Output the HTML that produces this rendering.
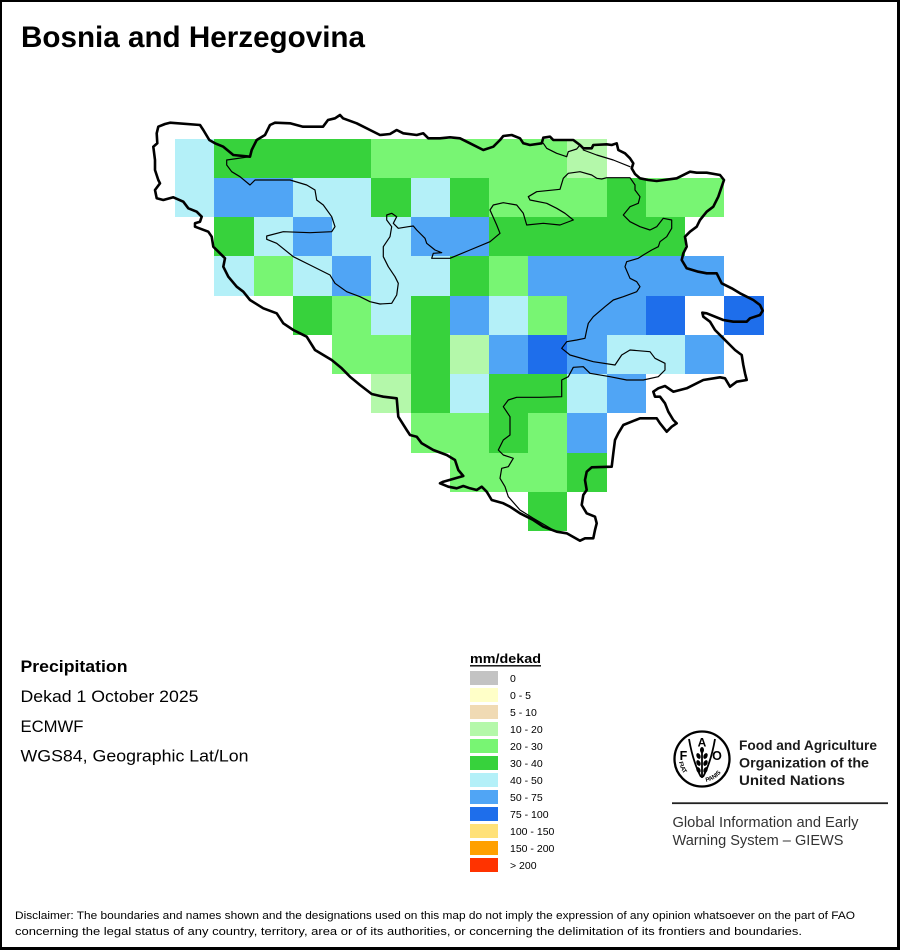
<!DOCTYPE html>
<html>
<head>
<meta charset="utf-8">
<style>
  html, body { margin: 0; padding: 0; background: #fff; }
  svg { display: block; }
  text { font-family: "Liberation Sans", Arial, sans-serif; }
</style>
</head>
<body>
<svg width="900" height="950" viewBox="0 0 900 950" xmlns="http://www.w3.org/2000/svg">
  <rect x="0" y="0" width="900" height="950" fill="#ffffff"/>

  <!-- Grid cells -->
  <g shape-rendering="crispEdges">
    <!-- R0 y139 h39 -->
    <rect x="175" y="139" width="39" height="39" fill="#b4f0f8"/>
    <rect x="214" y="139" width="157" height="39" fill="#37d23c"/>
    <rect x="371" y="139" width="196" height="39" fill="#78f573"/>
    <rect x="567" y="139" width="40" height="39" fill="#b4f8aa"/>
    <!-- R1 y178 h39 -->
    <rect x="175" y="178" width="39" height="39" fill="#b4f0f8"/>
    <rect x="214" y="178" width="79" height="39" fill="#50a5f5"/>
    <rect x="293" y="178" width="78" height="39" fill="#b4f0f8"/>
    <rect x="371" y="178" width="40" height="39" fill="#37d23c"/>
    <rect x="411" y="178" width="39" height="39" fill="#b4f0f8"/>
    <rect x="450" y="178" width="39" height="39" fill="#37d23c"/>
    <rect x="489" y="178" width="118" height="39" fill="#78f573"/>
    <rect x="607" y="178" width="39" height="39" fill="#37d23c"/>
    <rect x="646" y="178" width="78" height="39" fill="#78f573"/>
    <!-- R2 y217 h39 -->
    <rect x="214" y="217" width="40" height="39" fill="#37d23c"/>
    <rect x="254" y="217" width="39" height="39" fill="#b4f0f8"/>
    <rect x="293" y="217" width="39" height="39" fill="#50a5f5"/>
    <rect x="332" y="217" width="79" height="39" fill="#b4f0f8"/>
    <rect x="411" y="217" width="78" height="39" fill="#50a5f5"/>
    <rect x="489" y="217" width="196" height="39" fill="#37d23c"/>
    <!-- R3 y256 h40 -->
    <rect x="214" y="256" width="40" height="40" fill="#b4f0f8"/>
    <rect x="254" y="256" width="39" height="40" fill="#78f573"/>
    <rect x="293" y="256" width="39" height="40" fill="#b4f0f8"/>
    <rect x="332" y="256" width="39" height="40" fill="#50a5f5"/>
    <rect x="371" y="256" width="79" height="40" fill="#b4f0f8"/>
    <rect x="450" y="256" width="39" height="40" fill="#37d23c"/>
    <rect x="489" y="256" width="39" height="40" fill="#78f573"/>
    <rect x="528" y="256" width="196" height="40" fill="#50a5f5"/>
    <!-- R4 y296 h39 -->
    <rect x="293" y="296" width="39" height="39" fill="#37d23c"/>
    <rect x="332" y="296" width="39" height="39" fill="#78f573"/>
    <rect x="371" y="296" width="40" height="39" fill="#b4f0f8"/>
    <rect x="411" y="296" width="39" height="39" fill="#37d23c"/>
    <rect x="450" y="296" width="39" height="39" fill="#50a5f5"/>
    <rect x="489" y="296" width="39" height="39" fill="#b4f0f8"/>
    <rect x="528" y="296" width="39" height="39" fill="#78f573"/>
    <rect x="567" y="296" width="79" height="39" fill="#50a5f5"/>
    <rect x="646" y="296" width="39" height="39" fill="#1e6eeb"/>
    <rect x="724" y="296" width="40" height="39" fill="#1e6eeb"/>
    <!-- R5 y335 h39 -->
    <rect x="332" y="335" width="79" height="39" fill="#78f573"/>
    <rect x="411" y="335" width="39" height="39" fill="#37d23c"/>
    <rect x="450" y="335" width="39" height="39" fill="#b4f8aa"/>
    <rect x="489" y="335" width="39" height="39" fill="#50a5f5"/>
    <rect x="528" y="335" width="39" height="39" fill="#1e6eeb"/>
    <rect x="567" y="335" width="40" height="39" fill="#50a5f5"/>
    <rect x="607" y="335" width="78" height="39" fill="#b4f0f8"/>
    <rect x="685" y="335" width="39" height="39" fill="#50a5f5"/>
    <!-- R6 y374 h39 -->
    <rect x="371" y="374" width="40" height="39" fill="#b4f8aa"/>
    <rect x="411" y="374" width="39" height="39" fill="#37d23c"/>
    <rect x="450" y="374" width="39" height="39" fill="#b4f0f8"/>
    <rect x="489" y="374" width="78" height="39" fill="#37d23c"/>
    <rect x="567" y="374" width="40" height="39" fill="#b4f0f8"/>
    <rect x="607" y="374" width="39" height="39" fill="#50a5f5"/>
    <!-- R7 y413 h40 -->
    <rect x="411" y="413" width="78" height="40" fill="#78f573"/>
    <rect x="489" y="413" width="39" height="40" fill="#37d23c"/>
    <rect x="528" y="413" width="39" height="40" fill="#78f573"/>
    <rect x="567" y="413" width="40" height="40" fill="#50a5f5"/>
    <!-- R8 y453 h39 -->
    <rect x="450" y="453" width="117" height="39" fill="#78f573"/>
    <rect x="567" y="453" width="40" height="39" fill="#37d23c"/>
    <!-- R9 y492 h39 -->
    <rect x="528" y="492" width="39" height="39" fill="#37d23c"/>
  </g>

  <!-- Internal boundaries (thin) -->
  <g fill="none" stroke="#000" stroke-width="1.2" stroke-linejoin="round" stroke-linecap="round">
    <path d="M250,156.7 L226.7,160 226.7,165 231.7,171.7 240,176.7 250,185 255,180 266.7,180 290,180 306.7,185 315,190 316.7,200 323.3,205 331.7,216.7 335,226.7 331.7,231.7 310,232.7 283.3,231.7 266.7,236 266.7,239.3 276.7,243.3 293.3,256.7 310,265 330,275 335,283.3 346.7,291.7 360,296.7 370,301.7 380,304 391.7,303.3 396.7,295 398.3,283.3 395,276.7 388.3,266.7 383.3,256.7 383.3,246.7 390,236.7 391.7,226.7 386.7,220 386.7,215 391.7,213.3 396.7,216.7 393.3,223.3 398.3,228.3 408.3,226.7 413.3,226 416.7,230 421.7,235 425,238.3 426.7,243.3 435,250 441.7,252.7 433.3,253.3 431.7,258.3 440,258.3 450,258.3 470,250 490,241.7 500,233.3 496.7,225 490,210 493.3,205 503.3,202.7 516.7,205 523.3,213.3 526.7,225 543.3,223.3 560,225 573.3,220 565,213.3 556.7,208.3 546.7,203.3 530,200 528.3,196.7 536.7,191.7 560,189.3 563.3,178.3 568.3,173.3 580,171.7 591.7,175 596.7,178.3 601.7,179 606.7,177.7 630,177.7 635,185 635,190 640,196.7 638.3,203.3 630,206.7 623.3,215 630,221.7 640,226.7 650,230 656.7,226.7 663.3,218.3 671.7,220 671.7,228.3 666.7,236.7 660,241.7 658.3,246.7 651.7,250 643.3,255 638.3,258.3 626.7,261.7 625,266.7 630,278.3 636.7,281.7 640,286.7 636.7,291.7 623.3,296.7 613.3,300 605,306.7 593.3,316.7 588.3,323.3 586.7,330 585,338.3 576.7,340 566.7,341.7 561.7,348.3 570,355 593.3,361.7 615,365 621.7,355 630,350 650,351.7 655,358.3 665,363.3 665,370 658.3,376.7 643.3,380 626.7,380 610,376.7 590,373.3 583.3,366.7 573.3,367.3 568.3,376.7 561.7,380 561.7,396.7 540,397.3 516.7,397.3 508.3,400 503.3,406.7 510,416.7 510,435 503.3,440 498.3,450 503.3,455 513.3,458.3 508.3,466.7 501.7,468.3 500,478.3 505,486.7 508.3,496.7 520,510 533.3,518.3 553.3,530"/>
    <path d="M543.3,143.3 L546.7,148.3 556.7,153.3 566.7,156.7 568.3,151.7 576.7,149 580,145"/>
    <path d="M583.3,150 L596.7,155 613.3,160 630,166.7"/>
  </g>

  <!-- Country outline (thick) -->
  <path fill="none" stroke="#000" stroke-width="2.6" stroke-linejoin="round"
    d="M158.3,126.7 L165,124 170,122.7 200,125 203.3,130 209.3,140 215,143.3 223.3,146.7 233.3,155 250,156.7 251.7,150 256.7,140 265,135 270,125 275,122.7 290,123.3 303,126.7 323,126.7 328,120 335,118.3 340,115 343,118.3 356.7,123.3 370,130 380,135 390,134 396.7,130 403.3,133.3 416.7,135 423.3,133.3 428.3,138.3 440,138.3 450,137.3 460,138.3 470,143.3 483.3,150 493.3,146.7 500,140 503.3,136 511.7,135 520,138.3 523.3,143.3 530,145 541.7,143.3 543.3,137.7 550,136.7 553.3,140 573.3,140 580,145 583.3,148.3 591.7,148.3 593.3,145 606.7,144.3 611.7,145 616.7,143.3 618.3,150 625,153.3 630,158.3 633.3,163.3 631.7,168.3 635,174 640,178.3 648.3,180 656.7,181 676.7,178.3 690,171.7 696.7,172.7 706.7,172.7 720,175 724,180 721.7,186.7 718.3,196.7 713.3,206.7 706.7,211.7 700,220 696.7,226.7 690,231.7 685,236.7 686.7,246.7 683.3,253.3 681.7,260 686.7,268.3 698.3,271.7 706.7,273.3 716.7,273.3 721.7,283.3 731.7,288.3 740,293.3 746.7,296.7 753.3,300 760,305 762.7,310.7 760,315 750,318.3 746.7,321.7 733.3,321.7 723.3,320 706.7,313.3 702.3,312.7 703.3,316.7 710,321.7 715,330 723.3,338.3 730,345 735,350 741.7,355 743.3,365 745,373.3 746.7,380 736.7,381.7 730,386.7 725,378.3 720,377.3 703.3,380 686.7,388.3 673.3,391.7 665,386 658.3,388.3 653.3,391.7 655,396.7 660,396.7 665,403.3 668.3,411.7 673.3,420 676.7,423.3 671.7,426.7 666.7,431.7 660,423.3 656.7,418.3 640,418.3 623.3,425 618.3,433.3 615,440 613.3,453.3 611.7,466.7 591.7,467.3 586.7,471.7 585,480 586.7,490 583.3,495 581.7,505 586.7,513.3 595,516.7 596.7,523.3 595,530 593.3,538.3 585,538.3 580,540.7 566.7,533.3 556.7,531.7 543.3,526.7 533.3,520 520,513.3 510,506.7 503.3,503.3 491.7,500 486.7,491.7 481.7,486.7 476.7,490 470,488.3 463.3,486 456.7,488.3 448.3,486.7 440,483.3 443.3,481.7 463.3,476 458.3,470 455,460 446.7,455 433.3,450 421.7,443.3 416.7,436.7 410,435 406.7,430 398.3,416.7 396.7,398.3 383.3,396.7 371.7,394 360,385 350,376.7 341.7,368.3 331.7,360 315,350 306.7,336.7 300,333.3 293.3,330 283.3,323.3 276.7,313.3 263.3,308.3 250,300 243.3,291.7 236.7,286.7 228.3,276.7 223.3,266.7 225,258.3 220,253.3 213.3,246.7 211.7,236.7 208.3,231.7 195,226.7 195,223.3 200,221.7 201.7,216.7 196.7,211.7 188.3,208.3 183.3,201.7 173.3,197.3 163.3,200 156.7,198.3 155,190 160,183.3 158.3,180 155,170 155,160 153.3,146.7 157.3,143.3 156.7,133.3 Z"/>

  <!-- Title -->
  <text x="21" y="47" font-size="29.6" font-weight="bold" fill="#000" textLength="344" lengthAdjust="spacingAndGlyphs">Bosnia and Herzegovina</text>

  <!-- Left info text -->
  <text x="20.5" y="672" font-size="17" font-weight="bold" fill="#000" textLength="107" lengthAdjust="spacingAndGlyphs">Precipitation</text>
  <text x="20.5" y="702" font-size="17" fill="#000" textLength="178" lengthAdjust="spacingAndGlyphs">Dekad 1 October 2025</text>
  <text x="20.5" y="732" font-size="17" fill="#000" textLength="63" lengthAdjust="spacingAndGlyphs">ECMWF</text>
  <text x="20.5" y="761.5" font-size="17" fill="#000" textLength="228" lengthAdjust="spacingAndGlyphs">WGS84, Geographic Lat/Lon</text>

  <!-- Legend -->
  <text x="470" y="663" font-size="12.5" font-weight="bold" fill="#000" textLength="71" lengthAdjust="spacingAndGlyphs">mm/dekad</text>
  <line x1="470" y1="665.8" x2="541" y2="665.8" stroke="#000" stroke-width="1.3"/>
  <g shape-rendering="crispEdges">
    <rect x="470" y="671" width="28" height="14" fill="#c3c3c3"/>
    <rect x="470" y="688" width="28" height="14" fill="#ffffc8"/>
    <rect x="470" y="705" width="28" height="14" fill="#f0dab4"/>
    <rect x="470" y="722" width="28" height="14" fill="#b4f8aa"/>
    <rect x="470" y="739" width="28" height="14" fill="#78f573"/>
    <rect x="470" y="756" width="28" height="14" fill="#37d23c"/>
    <rect x="470" y="773" width="28" height="14" fill="#b4f0f8"/>
    <rect x="470" y="790" width="28" height="14" fill="#50a5f5"/>
    <rect x="470" y="807" width="28" height="14" fill="#1e6eeb"/>
    <rect x="470" y="824" width="28" height="14" fill="#ffe178"/>
    <rect x="470" y="841" width="28" height="14" fill="#ffa000"/>
    <rect x="470" y="858" width="28" height="14" fill="#ff3300"/>
  </g>
  <g font-size="10.5" fill="#000">
    <text x="510" y="682">0</text>
    <text x="510" y="699">0 - 5</text>
    <text x="510" y="716">5 - 10</text>
    <text x="510" y="733">10 - 20</text>
    <text x="510" y="750">20 - 30</text>
    <text x="510" y="767">30 - 40</text>
    <text x="510" y="784">40 - 50</text>
    <text x="510" y="801">50 - 75</text>
    <text x="510" y="818">75 - 100</text>
    <text x="510" y="835">100 - 150</text>
    <text x="510" y="852">150 - 200</text>
    <text x="510" y="869">&gt; 200</text>
  </g>

  <!-- FAO logo -->
  <g>
    <circle cx="702" cy="759" r="27.5" fill="none" stroke="#000" stroke-width="2.3"/>
    <text x="683.5" y="760" font-size="12.5" font-weight="bold" text-anchor="middle" fill="#000">F</text>
    <text x="702" y="746.5" font-size="12" font-weight="bold" text-anchor="middle" fill="#000">A</text>
    <text x="717" y="760" font-size="12.5" font-weight="bold" text-anchor="middle" fill="#000">O</text>
    <path d="M689,739 Q693,762 701,777" fill="none" stroke="#000" stroke-width="1.8"/>
    <path d="M715,739 Q711,762 703,777" fill="none" stroke="#000" stroke-width="1.8"/>
    <line x1="702" y1="752" x2="702" y2="778" stroke="#000" stroke-width="1.8"/>
    <ellipse cx="702" cy="750" rx="2" ry="3" fill="#000"/>
    <ellipse cx="698.5" cy="756" rx="2" ry="3" fill="#000" transform="rotate(-25 698.5 756)"/>
    <ellipse cx="705.5" cy="756" rx="2" ry="3" fill="#000" transform="rotate(25 705.5 756)"/>
    <ellipse cx="698.5" cy="763" rx="2" ry="3" fill="#000" transform="rotate(-25 698.5 763)"/>
    <ellipse cx="705.5" cy="763" rx="2" ry="3" fill="#000" transform="rotate(25 705.5 763)"/>
    <ellipse cx="698.5" cy="770" rx="2" ry="3" fill="#000" transform="rotate(-25 698.5 770)"/>
    <ellipse cx="705.5" cy="770" rx="2" ry="3" fill="#000" transform="rotate(25 705.5 770)"/>
    <path id="fiatArc" d="M679,762 A23,23 0 0 0 697,781.5" fill="none"/>
    <path id="panisArc" d="M706,781.8 A23,23 0 0 0 725,763" fill="none"/>
    <text font-size="6" font-weight="bold" fill="#000"><textPath href="#fiatArc">FIAT</textPath></text>
    <text font-size="6" font-weight="bold" fill="#000"><textPath href="#panisArc">PANIS</textPath></text>
  </g>
  <text x="739" y="750" font-size="14" font-weight="bold" fill="#1a1a1a" textLength="138" lengthAdjust="spacingAndGlyphs">Food and Agriculture</text>
  <text x="739" y="767.5" font-size="14" font-weight="bold" fill="#1a1a1a" textLength="130" lengthAdjust="spacingAndGlyphs">Organization of the</text>
  <text x="739" y="785" font-size="14" font-weight="bold" fill="#1a1a1a" textLength="106" lengthAdjust="spacingAndGlyphs">United Nations</text>
  <rect x="672" y="802.3" width="216" height="1.8" fill="#222"/>
  <text x="672.5" y="827" font-size="14.5" fill="#333" textLength="186" lengthAdjust="spacingAndGlyphs">Global Information and Early</text>
  <text x="672.5" y="845" font-size="14.5" fill="#333" textLength="171" lengthAdjust="spacingAndGlyphs">Warning System – GIEWS</text>

  <!-- Disclaimer -->
  <text x="15" y="919" font-size="11" fill="#000" textLength="840" lengthAdjust="spacingAndGlyphs">Disclaimer: The boundaries and names shown and the designations used on this map do not imply the expression of any opinion whatsoever on the part of FAO</text>
  <text x="15" y="935" font-size="11" fill="#000" textLength="787" lengthAdjust="spacingAndGlyphs">concerning the legal status of any country, territory, area or of its authorities, or concerning the delimitation of its frontiers and boundaries.</text>

  <!-- Frame -->
  <g shape-rendering="crispEdges" fill="#000">
    <rect x="0" y="0" width="900" height="2"/>
    <rect x="0" y="0" width="2" height="950"/>
    <rect x="897" y="0" width="3" height="950"/>
    <rect x="0" y="947" width="900" height="3"/>
  </g>
</svg>
</body>
</html>
